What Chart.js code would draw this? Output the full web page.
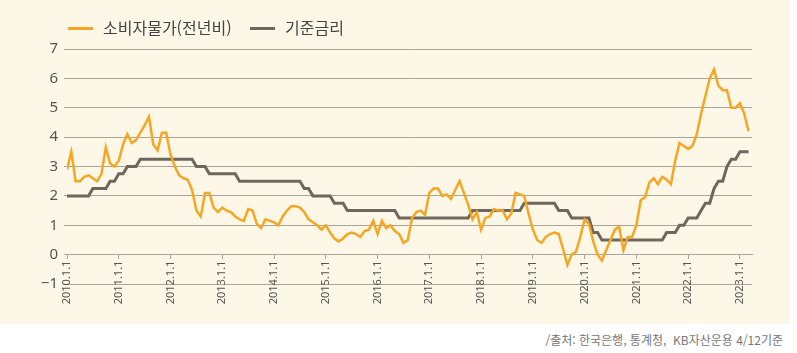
<!DOCTYPE html>
<html lang="ko">
<head>
<meta charset="utf-8">
<script src="https://cdn.jsdelivr.net/npm/chart.js@4/dist/chart.umd.min.js"></script>
<style>
  body { margin: 0; width: 797px; height: 353px; background: #fff; position: relative; overflow: hidden;
         font-family: 'Noto Sans CJK KR', 'Noto Sans', sans-serif; }
  #panel { position: absolute; left: 0; top: 0; width: 790px; height: 324px; background: #fdf7e7; }
  #chart { position: absolute; left: 0; top: 0; }
  .legend-item { position: absolute; top: 17px; height: 20px; line-height: 20px; font-size: 16px; color: #444; white-space: nowrap; }
  .swatch { display: inline-block; width: 25px; height: 3px; vertical-align: middle; margin-right: 10px; position: relative; top: -1px; }
  #source { position: absolute; right: 14px; top: 331px; font-size: 12px; color: #777; white-space: nowrap; }
</style>
</head>
<body>
<div id="panel">
  <canvas id="chart" width="790" height="324"></canvas>
  <div class="legend-item" style="left:68px"><span class="swatch" style="background:#f5a623"></span>소비자물가(전년비)</div>
  <div class="legend-item" style="left:250px"><span class="swatch" style="background:#6e675d"></span>기준금리</div>
</div>
<div id="source">/출처: 한국은행, 통계청,&nbsp; KB자산운용 4/12기준</div>

<script>
// monthly data, 2010.1 ~ 2023.3
const years = [2010, 2011, 2012, 2013, 2014, 2015, 2016, 2017, 2018, 2019, 2020, 2021, 2022, 2023];
const yTicks = [-1, 0, 1, 2, 3, 4, 5, 6, 7];

// 소비자물가 (전년비, %)
const cpi = [
  2.9, 3.5, 2.5, 2.5, 2.65, 2.7, 2.6, 2.5, 2.75, 3.65, 3.1, 3.0,      // 2010
  3.2, 3.75, 4.1, 3.8, 3.9, 4.15, 4.4, 4.7, 3.75, 3.55, 4.15, 4.15,   // 2011
  3.4, 3.0, 2.7, 2.6, 2.55, 2.2, 1.5, 1.3, 2.1, 2.1, 1.6, 1.45,       // 2012
  1.6, 1.5, 1.45, 1.3, 1.2, 1.15, 1.55, 1.5, 1.05, 0.9, 1.2, 1.15,    // 2013
  1.1, 1.0, 1.3, 1.5, 1.65, 1.65, 1.6, 1.45, 1.2, 1.1, 1.0, 0.85,     // 2014
  1.0, 0.75, 0.55, 0.45, 0.55, 0.7, 0.75, 0.7, 0.6, 0.8, 0.85, 1.15,  // 2015
  0.7, 1.15, 0.9, 1.0, 0.8, 0.7, 0.4, 0.5, 1.25, 1.45, 1.5, 1.35,     // 2016
  2.1, 2.25, 2.25, 2.0, 2.05, 1.9, 2.2, 2.5, 2.1, 1.7, 1.2, 1.45,     // 2017
  0.85, 1.25, 1.3, 1.55, 1.5, 1.5, 1.2, 1.4, 2.1, 2.05, 2.0, 1.4,     // 2018
  0.85, 0.5, 0.4, 0.6, 0.7, 0.75, 0.7, 0.2, -0.35, 0.0, 0.1, 0.6,     // 2019
  1.2, 1.05, 0.45, 0.0, -0.2, 0.15, 0.5, 0.85, 0.95, 0.15, 0.6, 0.6,  // 2020
  1.0, 1.85, 1.95, 2.45, 2.6, 2.4, 2.65, 2.55, 2.4, 3.2, 3.8, 3.7,    // 2021
  3.6, 3.7, 4.1, 4.8, 5.4, 6.0, 6.3, 5.75, 5.6, 5.6, 5.0, 5.0,        // 2022
  5.15, 4.8, 4.2                                                     // 2023
];

// 기준금리 (%)
const baseRate = [
  2.0, 2.0, 2.0, 2.0, 2.0, 2.0, 2.25, 2.25, 2.25, 2.25, 2.5, 2.5,         // 2010
  2.75, 2.75, 3.0, 3.0, 3.0, 3.25, 3.25, 3.25, 3.25, 3.25, 3.25, 3.25,    // 2011
  3.25, 3.25, 3.25, 3.25, 3.25, 3.25, 3.0, 3.0, 3.0, 2.75, 2.75, 2.75,    // 2012
  2.75, 2.75, 2.75, 2.75, 2.5, 2.5, 2.5, 2.5, 2.5, 2.5, 2.5, 2.5,         // 2013
  2.5, 2.5, 2.5, 2.5, 2.5, 2.5, 2.5, 2.25, 2.25, 2.0, 2.0, 2.0,           // 2014
  2.0, 2.0, 1.75, 1.75, 1.75, 1.5, 1.5, 1.5, 1.5, 1.5, 1.5, 1.5,          // 2015
  1.5, 1.5, 1.5, 1.5, 1.5, 1.25, 1.25, 1.25, 1.25, 1.25, 1.25, 1.25,      // 2016
  1.25, 1.25, 1.25, 1.25, 1.25, 1.25, 1.25, 1.25, 1.25, 1.25, 1.5, 1.5,   // 2017
  1.5, 1.5, 1.5, 1.5, 1.5, 1.5, 1.5, 1.5, 1.5, 1.5, 1.75, 1.75,           // 2018
  1.75, 1.75, 1.75, 1.75, 1.75, 1.75, 1.5, 1.5, 1.5, 1.25, 1.25, 1.25,    // 2019
  1.25, 1.25, 0.75, 0.75, 0.5, 0.5, 0.5, 0.5, 0.5, 0.5, 0.5, 0.5,         // 2020
  0.5, 0.5, 0.5, 0.5, 0.5, 0.5, 0.5, 0.75, 0.75, 0.75, 1.0, 1.0,          // 2021
  1.25, 1.25, 1.25, 1.5, 1.75, 1.75, 2.25, 2.5, 2.5, 3.0, 3.25, 3.25,     // 2022
  3.5, 3.5, 3.5                                                          // 2023
];

const months = cpi.map((_, i) => `${years[0] + Math.floor(i / 12)}.${(i % 12) + 1}`);

const gridColor = '#aaa49a';
const tickColor = '#555';

Chart.defaults.font.family = "'Noto Sans', 'Noto Sans CJK KR', sans-serif";

new Chart(document.getElementById('chart'), {
    type: 'line',
    data: {
        datasets: [{
            label: '소비자물가(전년비)',
            data: cpi.map((v, i) => ({ x: i, y: v })),
            borderColor: '#f5a623',
            borderWidth: 2.5,
            pointRadius: 0,
            tension: 0
        }, {
            label: '기준금리',
            data: baseRate.map((v, i) => ({ x: i, y: v })),
            borderColor: '#6e675d',
            borderWidth: 3,
            pointRadius: 0,
            tension: 0
        }]
    },
    options: {
        responsive: false,
        animation: false,
        layout: { padding: { top: 49, right: 38, bottom: 40, left: 0 } },
        plugins: {
            legend: { display: false },
            tooltip: { enabled: false }
        },
        scales: {
            x: {
                type: 'linear',
                position: { y: 0 },
                min: 0,
                max: 158.8,
                grid: { drawOnChartArea: false, drawTicks: true, tickLength: 4, color: gridColor },
                border: { display: true, color: gridColor },
                ticks: {
                    stepSize: 12,
                    includeBounds: false,
                    autoSkip: false,
                    minRotation: 90,
                    maxRotation: 90,
                    padding: 2,
                    color: tickColor,
                    font: { size: 11 },
                    callback: value => value % 12 === 0 ? `${months[value].split('.')[0]}.1.1` : null
                }
            },
            y: {
                min: yTicks[0],
                max: yTicks[yTicks.length - 1],
                afterFit: scale => { scale.width = 67; },
                grid: { color: gridColor, lineWidth: 1, tickLength: 3 },
                border: { display: false },
                ticks: {
                    stepSize: 1,
                    padding: 6,
                    color: tickColor,
                    font: { size: 15 },
                    callback: value => value < 0 ? '\u2212' + Math.abs(value) : value
                }
            }
        }
    }
});
</script>
</body>
</html>
